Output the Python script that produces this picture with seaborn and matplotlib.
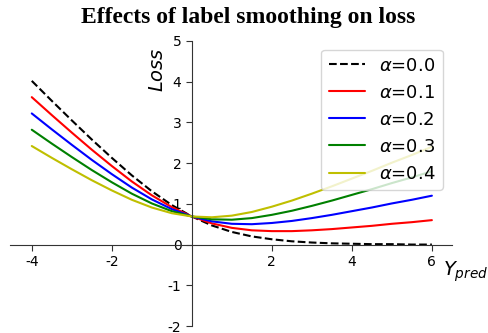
import matplotlib
matplotlib.use("Agg")
import matplotlib.pyplot as plt
import pandas as pd
import seaborn as sns

# values, x = -4 ... 6 in steps of 0.5
y_pred = [-4, -3.5, -3, -2.5, -2, -1.5, -1, -0.5, 0, 0.5, 1, 1.5, 2, 2.5, 3,
          3.5, 4, 4.5, 5, 5.5, 6]
loss_a00 = [4.02, 3.53, 3.05, 2.58, 2.13, 1.70, 1.31, 0.97, 0.69, 0.47, 0.31,
            0.20, 0.13, 0.08, 0.05, 0.03, 0.02, 0.01, 0.01, 0.00, 0.00]
loss_a01 = [3.62, 3.18, 2.75, 2.33, 1.93, 1.55, 1.21, 0.92, 0.69, 0.52, 0.41,
            0.35, 0.33, 0.33, 0.35, 0.38, 0.42, 0.46, 0.51, 0.55, 0.60]
loss_a02 = [3.22, 2.83, 2.45, 2.08, 1.73, 1.40, 1.11, 0.87, 0.69, 0.57, 0.51,
            0.50, 0.53, 0.58, 0.65, 0.73, 0.82, 0.91, 1.01, 1.10, 1.20]
loss_a03 = [2.82, 2.48, 2.15, 1.83, 1.53, 1.25, 1.01, 0.82, 0.69, 0.62, 0.61,
            0.65, 0.73, 0.83, 0.95, 1.08, 1.22, 1.36, 1.51, 1.65, 1.80]
loss_a04 = [2.42, 2.13, 1.85, 1.58, 1.33, 1.10, 0.91, 0.77, 0.69, 0.67, 0.71,
            0.80, 0.93, 1.08, 1.25, 1.43, 1.62, 1.81, 2.01, 2.20, 2.40]
labels = [r"$\alpha$=0.0", r"$\alpha$=0.1", r"$\alpha$=0.2", r"$\alpha$=0.3", r"$\alpha$=0.4"]
series = [loss_a00, loss_a01, loss_a02, loss_a03, loss_a04]
colors = ["k", "r", "b", "g", "y"]
styles = ["--", "-", "-", "-", "-"]

sns.set_style("white")
plt.rcParams["axes.unicode_minus"] = False
plt.rcParams["text.color"] = "black"
plt.rcParams["axes.labelcolor"] = "black"
plt.rcParams["xtick.color"] = "black"
plt.rcParams["ytick.color"] = "black"

fig = plt.figure(figsize=(4.88, 3.33), dpi=100)
ax = fig.add_axes([0.02, 0.021, 0.906, 0.856])

for vals, lab, c, ls in zip(series, labels, colors, styles):
    df = pd.DataFrame({"x": y_pred, "loss": vals})
    sns.lineplot(data=df, x="x", y="loss", color=c, ls=ls, lw=1.5, label=lab, ax=ax)

ax.set_xlim(-4.55, 6.5)
ax.set_ylim(-2, 5)
ax.spines["left"].set_position("zero")
ax.spines["bottom"].set_position("zero")
ax.spines["top"].set_visible(False)
ax.spines["right"].set_visible(False)
for s in ["left", "bottom"]:
    ax.spines[s].set_color("#333333")
ax.set_xticks([-4, -2, 2, 4, 6])
ax.set_yticks([-2, -1, 0, 1, 2, 3, 4, 5])
ax.tick_params(axis="both", direction="out", length=4, width=0.8, labelsize=10,
               bottom=True, left=True, color="#333333")

ax.set_ylabel("$Loss$", fontsize=14)
ax.yaxis.set_label_coords(0.355, 0.9)
ax.set_xlabel("$Y_{pred}$", fontsize=14)
ax.xaxis.set_label_coords(1.03, 0.235)

ax.legend(loc="upper right", bbox_to_anchor=(0.98, 0.97), borderaxespad=0,
          fontsize=13, handlelength=2)

fig.suptitle("Effects of label smoothing on loss", x=0.508, y=0.98,
             fontsize=17, fontweight="bold", family="Liberation Serif")

fig.savefig("out.png", dpi=100)
